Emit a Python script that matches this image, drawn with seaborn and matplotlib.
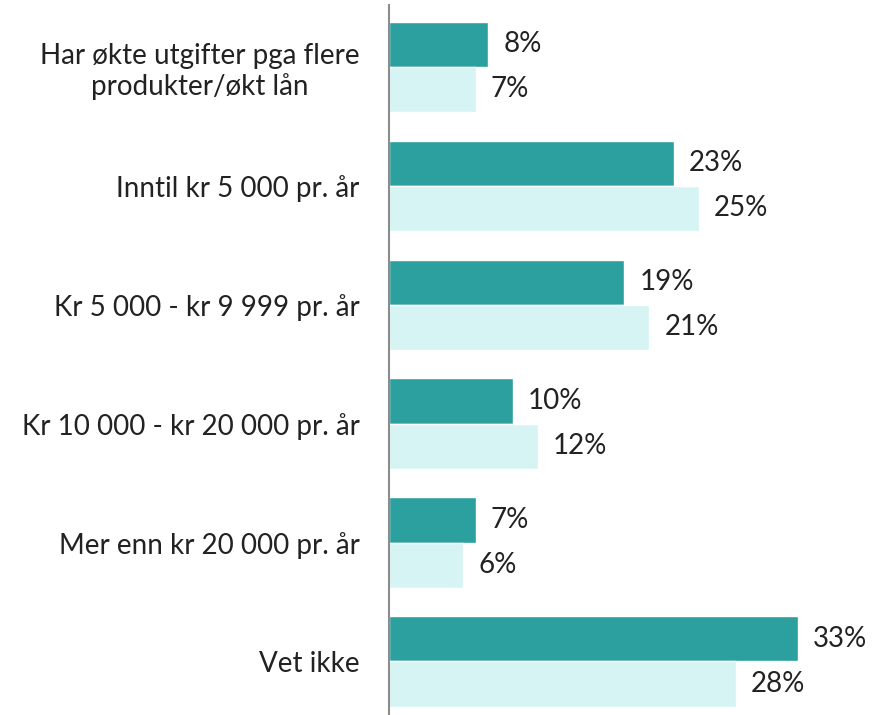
import seaborn as sns
import matplotlib.pyplot as plt
import pandas as pd

kategorier = ["Har økte utgifter pga flere\nprodukter/økt lån",
              "Inntil kr 5 000 pr. år",
              "Kr 5 000 - kr 9 999 pr. år",
              "Kr 10 000 - kr 20 000 pr. år",
              "Mer enn kr 20 000 pr. år",
              "Vet ikke"]
serie_1 = [8, 23, 19, 10, 7, 33]
serie_2 = [7, 25, 21, 12, 6, 28]
serier = ["Serie 1", "Serie 2"]
farger = ["#2CA09E", "#D6F4F3"]

df = pd.DataFrame({
    "Kategori": kategorier * 2,
    "Andel": serie_1 + serie_2,
    "Serie": [serier[0]] * len(kategorier) + [serier[1]] * len(kategorier),
})

sns.set_theme(style="white")
plt.rcParams['font.family'] = ['Lato', 'DejaVu Sans']

fig = plt.figure(figsize=(8.72, 7.15), dpi=100)
ax = fig.add_axes([389 / 872, 0, (872 - 389) / 872, 710 / 715])

sns.barplot(data=df, x="Andel", y="Kategori", hue="Serie", palette=farger,
            orient="h", width=0.76, ax=ax, legend=False, saturation=1)

for cont in ax.containers:
    ax.bar_label(cont, labels=[f"{v:.0f}%" for v in cont.datavalues],
                 padding=11, fontsize=20, color="#222222")

ax.set_xlim(0, 39)
ax.set_ylim(5.45, -0.52)
ax.set_xlabel("")
ax.set_ylabel("")
ax.set_xticks([])
for s in ["top", "right", "bottom"]:
    ax.spines[s].set_visible(False)
ax.spines["left"].set_color("#8C8C8C")
ax.spines["left"].set_linewidth(1.5)
ax.tick_params(axis="y", length=0, pad=21, labelsize=20, labelcolor="#222222")
for t in ax.get_yticklabels():
    t.set_multialignment("center")

plt.savefig("out.png", dpi=100)
